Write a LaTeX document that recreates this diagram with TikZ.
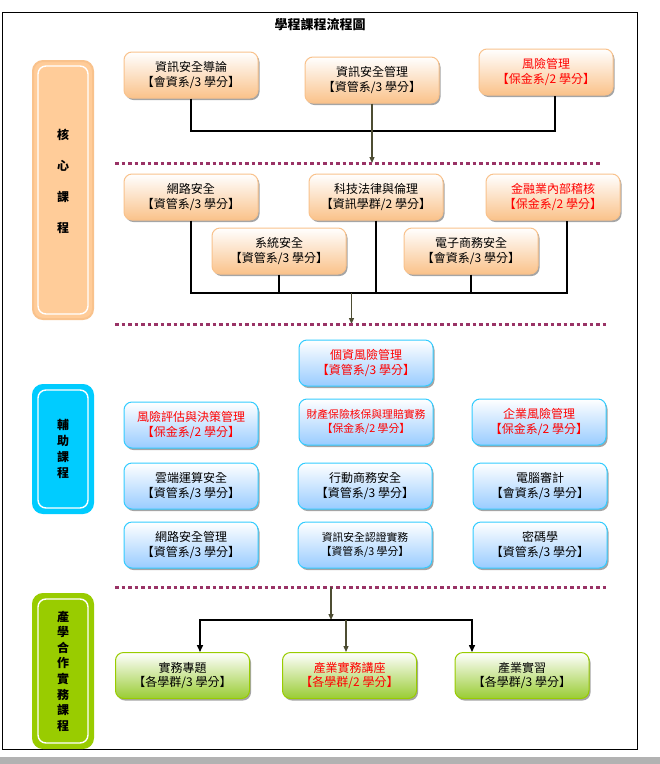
\documentclass[tikz,border=0pt]{standalone}
\usepackage{fontspec}
\setmainfont{Noto Sans CJK TC}
\usepackage{tikz}
\usetikzlibrary{arrows.meta,shadows}
\definecolor{OrangeEdge}{HTML}{F9C28C}
\definecolor{OrangeFill}{HTML}{FAC28A}
\definecolor{BlueEdge}{HTML}{33CCFF}
\definecolor{BlueFill}{HTML}{99CCFF}
\definecolor{GreenEdge}{HTML}{99CC00}
\definecolor{GreenFill}{HTML}{99CC33}
\definecolor{CatOrange}{HTML}{FFCC99}
\definecolor{CatCyan}{HTML}{00CCFF}
\definecolor{CatGreen}{HTML}{99CC00}
\definecolor{Dots}{HTML}{993366}
\definecolor{Olive}{HTML}{4D4D33}
\definecolor{Red}{HTML}{FF0000}

\begin{document}
\begin{tikzpicture}[x=1pt,y=-1pt,
  course/.style={rounded corners=8pt,minimum width=134pt,minimum height=46pt,
    align=center,font=\fontsize{12}{14.5}\selectfont,inner sep=2pt,line width=1pt,
    drop shadow={shadow xshift=1.5pt,shadow yshift=-2pt,fill=black!50,opacity=.7}},
  core/.style={course,draw=OrangeEdge,top color=white,bottom color=OrangeFill},
  aux/.style={course,draw=BlueEdge,top color=white,bottom color=BlueFill},
  ind/.style={course,draw=GreenEdge,top color=white,bottom color=GreenFill},
  small/.style={font=\fontsize{10.8}{14.5}\selectfont},
  cat/.style={rounded corners=10pt,minimum width=60pt,line width=2pt,align=center,
    inner sep=0pt,font=\bfseries\fontsize{12}{16}\selectfont,
    path picture={\draw[white,line width=1.4pt,rounded corners=8pt]
      ([shift={(5pt,-5pt)}]path picture bounding box.north west) rectangle
      ([shift={(-5pt,5pt)}]path picture bounding box.south east);}},
  dotline/.style={Dots,line width=3pt,dash pattern=on 3.5pt off 3pt},
  bus/.style={line width=1.4pt,black},
  tip/.style={-{Triangle[length=6pt,width=5pt]},line width=1.2pt,Olive},
  blacktip/.style={-{Triangle[length=7pt,width=6pt]},line width=1.5pt,black}]
  \useasboundingbox[fill=white] (0,0) rectangle (660,764);
  \draw[line width=0.8pt] (2,12) rectangle (637,749);
  \fill[black!30] (0,757) rectangle (660,764);
  \node[font=\bfseries\fontsize{13}{15}\selectfont] (title) at (320,25) {學程課程流程圖};

  \node[cat,draw=OrangeEdge,fill=CatOrange,minimum height=258pt,
    font=\bfseries\fontsize{12}{31}\selectfont] (kcore) at (63,190)
    {核\\心\\課\\程\\[-12pt]\mbox{}};
  \node[cat,draw=CatCyan,fill=CatCyan,minimum height=128pt] (kaux) at (63,449)
    {輔\\助\\課\\程};
  \node[cat,draw=CatGreen,fill=CatGreen,minimum height=154pt,
    font=\bfseries\fontsize{12}{15.6}\selectfont] (kind) at (63,671)
    {產\\學\\合\\作\\實\\務\\課\\程};

  \node[core] (a1) at (191,75) {資訊安全導論\\【會資系/3 學分】};
  \node[core] (a2) at (372,80) {資訊安全管理\\【資管系/3 學分】};
  \node[core,text=Red] (a3) at (546,72) {風險管理\\【保金系/2 學分】};
  \coordinate (j1) at (372,131);
  \coordinate (d1) at (372,163);
  \draw[bus] (a1.south) |- (j1) -| ([xshift=9pt]a3.south);
  \draw[tip] (a2.south) -- (d1);
  \coordinate (d1a) at (115,163);
  \coordinate (d1b) at (601,163);
  \draw[dotline] (d1a) -- (d1b);

  \node[core] (b1) at (191,197) {網路安全\\【資管系/3 學分】};
  \node[core] (b2) at (376,197) {科技法律與倫理\\【資訊學群/2 學分】};
  \node[core,text=Red] (b3) at (553,197) {金融業內部稽核\\【保金系/2 學分】};
  \node[core] (b4) at (279,251) {系統安全\\【資管系/3 學分】};
  \node[core] (b5) at (471,251) {電子商務安全\\【會資系/3 學分】};
  \coordinate (j2) at (351.5,293);
  \coordinate (d2) at (351.5,324);
  \draw[bus] (b1.south) |- (j2) -| ([xshift=14pt]b3.south);
  \draw[bus] (b2.south) -- (b2.south |- j2);
  \draw[bus] (b4.south) -- (b4.south |- j2);
  \draw[bus] (b5.south) -- (b5.south |- j2);
  \draw[tip] (j2) -- (d2);
  \coordinate (d2a) at (115,324);
  \coordinate (d2b) at (609,324);
  \draw[dotline] (d2a) -- (d2b);

  \node[aux,text=Red] (c1) at (366,363) {個資風險管理\\【資管系/3 學分】};
  \node[aux,text=Red] (c2) at (191,425) {風險評估與決策管理\\【保金系/2 學分】};
  \node[aux,text=Red,small] (c3) at (366,422) {財產保險核保與理賠實務\\【保金系/2 學分】};
  \node[aux,text=Red] (c4) at (539,422) {企業風險管理\\【保金系/2 學分】};
  \node[aux] (c5) at (191,486) {雲端運算安全\\【資管系/3 學分】};
  \node[aux] (c6) at (365,486) {行動商務安全\\【資管系/3 學分】};
  \node[aux] (c7) at (540,486) {電腦審計\\【會資系/3 學分】};
  \node[aux] (c8) at (191,545) {網路安全管理\\【資管系/3 學分】};
  \node[aux,small] (c9) at (365,545) {資訊安全認證實務\\【資管系/3 學分】};
  \node[aux] (c10) at (540,545) {密碼學\\【資管系/3 學分】};

  \coordinate (d3a) at (115,587);
  \coordinate (d3b) at (609,587);
  \draw[dotline] (d3a) -- (d3b);
  \coordinate (d3) at (331,587);
  \coordinate (j3) at (331,620);
  \node[ind] (e1) at (182.5,675.5) {實務專題\\【各學群/3 學分】};
  \node[ind,text=Red] (e2) at (349.5,675.5) {產業實務講座\\【各學群/2 學分】};
  \node[ind] (e3) at (522,675.5) {產業實習\\【各學群/3 學分】};
  \draw[tip] (d3) -- (j3);
  \draw[blacktip] (j3) -| ([xshift=17.5pt]e1.north);
  \draw[blacktip] (j3) -| ([xshift=-50pt]e3.north);
  \draw[tip] ([xshift=-3.5pt]e2.north |- j3) -- ([xshift=-3.5pt]e2.north);
\end{tikzpicture}
\end{document}
